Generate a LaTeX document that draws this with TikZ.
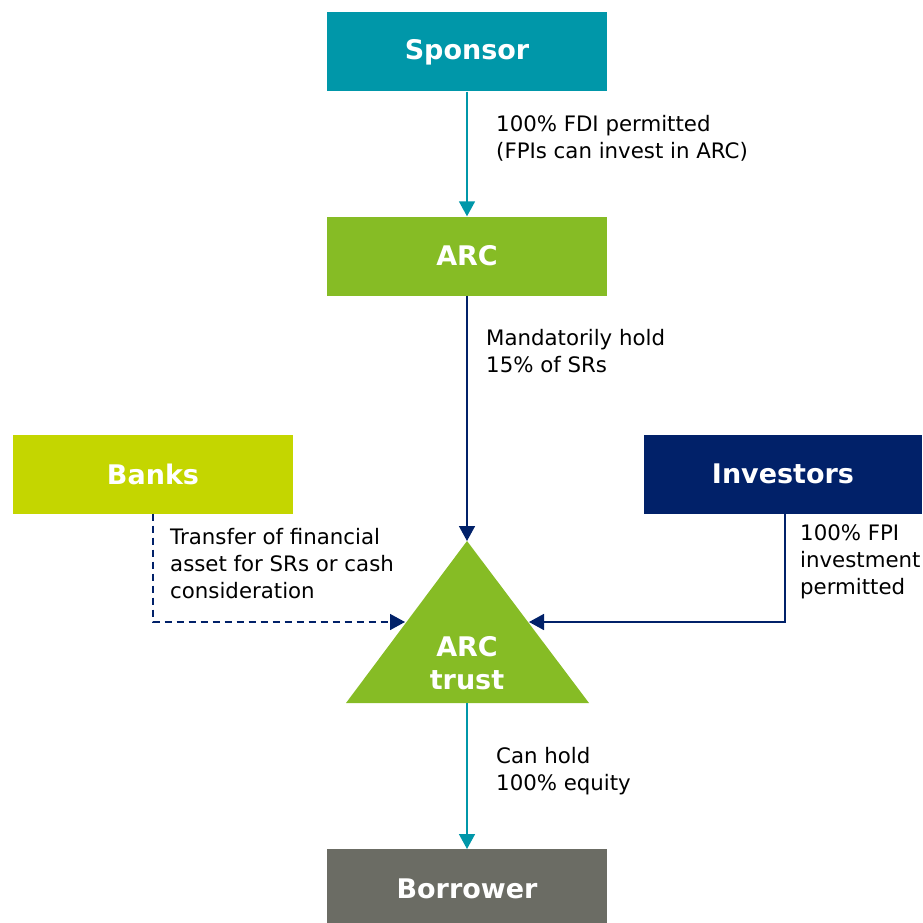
\documentclass[tikz,border=0pt]{standalone}
\usepackage{fontspec}
\setmainfont{DejaVu Sans}
\usetikzlibrary{arrows.meta}
\definecolor{cteal}{HTML}{0097A9}
\definecolor{cgreen}{HTML}{86BC25}
\definecolor{clime}{HTML}{C4D600}
\definecolor{cnavy}{HTML}{012169}
\definecolor{cgray}{HTML}{6B6C64}
\tikzset{
  entity/.style={rectangle, minimum width=280pt, minimum height=79pt, inner sep=0pt,
    text=white, font=\fontsize{27}{31}\selectfont\bfseries},
  note/.style={anchor=west, align=left, inner sep=0pt, text=black,
    font=\fontsize{21.3}{27}\selectfont},
  link/.style={line width=1.6pt, -{Triangle[length=15pt,width=16pt]}},
}
\begin{document}
\begin{tikzpicture}[x=1pt,y=-1pt]
\useasboundingbox (0,0) rectangle (922,923);

% boxes
\node[entity, fill=cteal]  (sponsor)   at (467,52)  {Sponsor};
\node[entity, fill=cgreen] (arc)       at (467,256) {ARC};
\node[entity, fill=clime]  (banks)     at (153,474) {Banks};
\node[entity, fill=cnavy, minimum width=278pt] (investors) at (783,474) {Investors};
\node[entity, fill=cgray, minimum height=79pt, anchor=north] (borrower) at (467,849) {};
\node[text=white, font=\fontsize{27}{31}\selectfont\bfseries] (borrowerlabel) at (467,889) {Borrower};

% the trust triangle
\fill[cgreen] (346,703) -- (467,541) -- (589,703) -- cycle;
\coordinate (trusttop) at (467,541);
\coordinate (trustbottom) at (467,703);
\coordinate (trustleft) at (405,622);
\coordinate (trustright) at (529,622);
\node[text=white, align=center, font=\fontsize{27}{33}\selectfont\bfseries] (trust) at (467,663) {ARC\\trust};

% connectors
\draw[link, cteal] (sponsor.south) -- (arc.north);
\draw[link, cnavy] (arc.south) -- (trusttop);
\draw[link, cnavy, dashed, dash pattern=on 7pt off 5pt] (banks.south) |- (trustleft);
\draw[link, cnavy] (investors.south -| 785,0) |- (trustright);
\draw[link, cteal] (trustbottom) -- (borrower.north);

% annotations
\node[note] (n1) at (496,138) {100\% FDI permitted\\(FPIs can invest in ARC)};
\node[note] (n2) at (486,351) {Mandatorily hold\\15\% of SRs};
\node[note] (n3) at (170,564) {Transfer of financial\\asset for SRs or cash\\consideration};
\node[note] (n4) at (800,562) {100\% FPI\\investment\\permitted};
\node[note] (n5) at (496,771) {Can hold\\100\% equity};
\end{tikzpicture}
\end{document}
